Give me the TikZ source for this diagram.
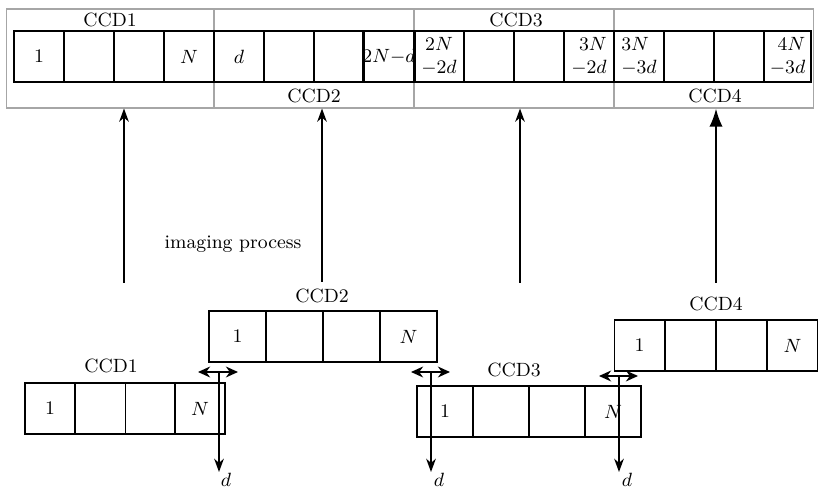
\documentclass[tikz,border=0pt]{standalone}
\usepackage{tikz}
\usetikzlibrary{arrows.meta,positioning,calc}
\usepackage{amsmath}

\begin{document}
\begin{tikzpicture}[x=0.0165cm, y=-0.0165cm,
  sec/.style={rectangle, draw=gray!70, line width=0.5pt, minimum width=3.3cm,
    minimum height=1.6335cm, inner sep=0pt},
  cell/.style={rectangle, draw, line width=0.55pt, minimum width=0.825cm,
    minimum height=0.8415cm, inner sep=0pt, font=\small},
  lbl/.style={font=\small},
  up/.style={-{Stealth[length=2.2mm,width=1.6mm]}, line width=0.6pt},
  upbig/.style={-{Latex[length=3mm,width=2.2mm]}, line width=1pt},
  down/.style={-{Stealth[length=2.2mm,width=1.6mm]}, line width=0.7pt},
  slide/.style={{Stealth[length=2mm,width=1.8mm]}-{Stealth[length=2mm,width=1.8mm]}, line width=0.7pt}
]
  \useasboundingbox (0,0) rectangle (819,490);

  % Joined strip
  \node[sec, minimum width=3.4155cm] (sec1) at (110.5,58.5) {};
  \node[sec] (sec2) at (314,58.5) {};
  \node[sec] (sec3) at (514,58.5) {};
  \node[sec, minimum width=3.2835cm] (sec4) at (713.5,58.5) {};

  \node[lbl] (top1) at (110,20) {CCD1};
  \node[lbl] (top2) at (314,96) {CCD2};
  \node[lbl] (top3) at (516,20) {CCD3};
  \node[lbl] (top4) at (715,96) {CCD4};

  \node[cell] (t1)  at (39,56.5)  {$1$};
  \node[cell] (t2)  at (89,56.5)  {};
  \node[cell] (t3)  at (139,56.5) {};
  \node[cell] (t4)  at (189,56.5) {$N$};
  \node[cell] (t5)  at (239,56.5) {$d$};
  \node[cell] (t6)  at (289,56.5) {};
  \node[cell] (t7)  at (339,56.5) {};
  \node[cell] (t8)  at (389,56.5) {$2N{-}d$};
  \node[cell, align=center] (t9)  at (439,56.5) {$2N$\\$-2d$};
  \node[cell] (t10) at (489,56.5) {};
  \node[cell] (t11) at (539,56.5) {};
  \node[cell, align=right] (t12) at (589,56.5) {$3N$\\$-2d$};
  \node[cell, align=left] (t13) at (639,56.5) {$3N$\\$-3d$};
  \node[cell] (t14) at (689,56.5) {};
  \node[cell] (t15) at (739,56.5) {};
  \node[cell, align=right, minimum width=0.7755cm] (t16) at (787.5,56.5) {$4N$\\$-3d$};

  % Imaging arrows
  \coordinate (a1) at (124,283);
  \coordinate (a2) at (322,282);
  \coordinate (a3) at (520,283);
  \coordinate (a4) at (716,283);
  \draw[up] (a1) -- (a1 |- sec1.south);
  \draw[up] (a2) -- (a2 |- sec2.south);
  \draw[up] (a3) -- (a3 |- sec3.south);
  \draw[upbig] (a4) -- (a4 |- sec4.south);
  \node[lbl] (proc) at (233,244) {imaging process};

  % CCD1
  \node[lbl] (lab1) at (111,366) {CCD1};
  \node[cell] (c1a) at (50,408.5)    {$1$};
  \node[cell] (c1b) at (100.5,408.5) {};
  \node[cell] (c1c) at (150.5,408.5) {};
  \node[cell] (c1d) at (200,408.5)   {$N$};

  % CCD2
  \node[lbl] (lab2) at (322,296) {CCD2};
  \node[cell, minimum width=0.9405cm] (c2a) at (237.5,336.5) {$1$};
  \node[cell, minimum width=0.9405cm] (c2b) at (294.5,336.5) {};
  \node[cell, minimum width=0.9405cm] (c2c) at (351.5,336.5) {};
  \node[cell, minimum width=0.9405cm] (c2d) at (408.5,336.5) {$N$};

  % CCD3
  \node[lbl] (lab3) at (514,370) {CCD3};
  \node[cell, minimum width=0.924cm] (c3a) at (445,411.5) {$1$};
  \node[cell, minimum width=0.924cm] (c3b) at (501,411.5) {};
  \node[cell, minimum width=0.924cm] (c3c) at (557,411.5) {};
  \node[cell, minimum width=0.924cm] (c3d) at (613,411.5) {$N$};

  % CCD4
  \node[lbl] (lab4) at (716,304) {CCD4};
  \node[cell] (c4a) at (639.5,345.5) {$1$};
  \node[cell] (c4b) at (690.5,345.5) {};
  \node[cell] (c4c) at (741.5,345.5) {};
  \node[cell] (c4d) at (792.5,345.5) {$N$};

  % Offsets d
  \coordinate (m1) at (219,372);
  \coordinate (l1) at (198,372);
  \coordinate (r1) at (238,372);
  \coordinate (e1) at (219,472);
  \coordinate (m2) at (431,372);
  \coordinate (l2) at (411,372);
  \coordinate (r2) at (450,372);
  \coordinate (e2) at (431,472);
  \coordinate (m3) at (619,376);
  \coordinate (l3) at (599,376);
  \coordinate (r3) at (638,376);
  \coordinate (e3) at (619,472);
  \draw[slide] (l1) -- (r1);
  \draw[slide] (l2) -- (r2);
  \draw[slide] (l3) -- (r3);
  \draw[down] (m1) -- (e1);
  \draw[down] (m2) -- (e2);
  \draw[down] (m3) -- (e3);
  \node[lbl] (d1) at (226,480) {$d$};
  \node[lbl] (d2) at (439,480) {$d$};
  \node[lbl] (d3) at (627,480) {$d$};
\end{tikzpicture}
\end{document}
